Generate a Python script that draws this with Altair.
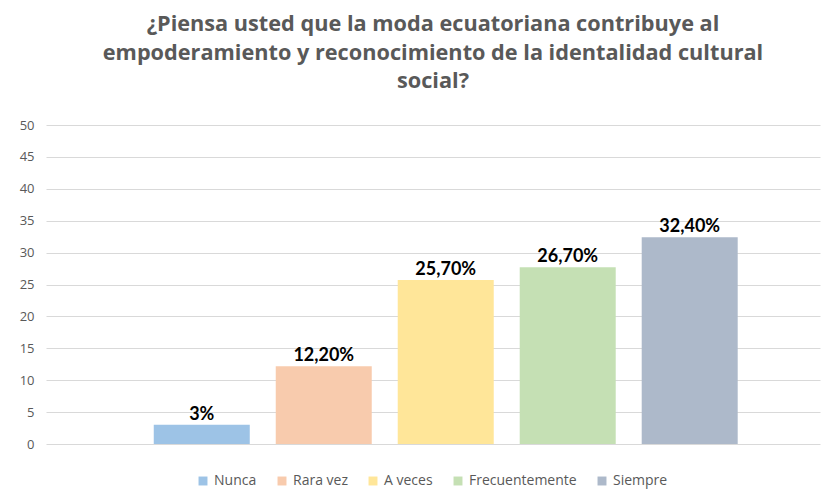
import altair as alt
import pandas as pd

categories = ["Nunca", "Rara vez", "A veces", "Frecuentemente", "Siempre"]
values = [3.0, 12.2, 25.7, 27.7, 32.4]
labels = ["3%", "12,20%", "25,70%", "26,70%", "32,40%"]
colors = ["#9DC3E6", "#F8CBAD", "#FFE699", "#C5E0B4", "#ADB9CA"]
title_lines = [
    "¿Piensa usted que la moda ecuatoriana contribuye al",
    "empoderamiento y reconocimiento de la identalidad cultural",
    "social?",
]

df = pd.DataFrame({"cat": categories, "val": values, "lab": labels})

x = alt.X(
    "cat:N",
    sort=categories,
    axis=None,
    scale=alt.Scale(paddingInner=0.213, paddingOuter=0.779, align=0.567),
)
y = alt.Y(
    "val:Q",
    scale=alt.Scale(domain=[0, 50], nice=False),
    axis=alt.Axis(
        values=list(range(0, 55, 5)),
        title=None,
        domain=False,
        ticks=False,
        labelPadding=12,
        labelColor="#595959",
        labelFont="Open Sans",
        labelFontSize=13,
        gridColor="#D9D9D9",
        gridWidth=1,
    ),
)
color = alt.Color(
    "cat:N",
    sort=categories,
    scale=alt.Scale(domain=categories, range=colors),
    legend=alt.Legend(
        title=None,
        orient="none",
        direction="horizontal",
        legendX=150,
        legendY=349,
        symbolType="square",
        symbolSize=80,
        symbolStrokeWidth=0,
        labelFont="Open Sans",
        labelFontSize=14,
        labelColor="#595959",
        columnPadding=18,
        labelOffset=4,
    ),
)

bars = alt.Chart(df).mark_bar().encode(x=x, y=y, color=color)
text = alt.Chart(df).mark_text(
    baseline="alphabetic", dy=-5, font="Lato", fontWeight="bold", fontSize=18, color="#000000"
).encode(x=x, y=y, text="lab:N")

chart = (
    alt.layer(bars, text)
    .properties(
        width=774,
        height=319,
        autosize=alt.AutoSizeParams(type="none"),
        padding={"left": 46, "top": 125, "right": 10, "bottom": 48},
        title=alt.TitleParams(
            text=title_lines,
            font="Open Sans",
            fontWeight="bold",
            fontSize=21.7,
            color="#595959",
            anchor="middle",
            lineHeight=28.5,
            offset=26,
        ),
    )
    .configure_view(stroke=None)
)

chart.save("out.html", embed_options={"renderer": "svg", "actions": False})
